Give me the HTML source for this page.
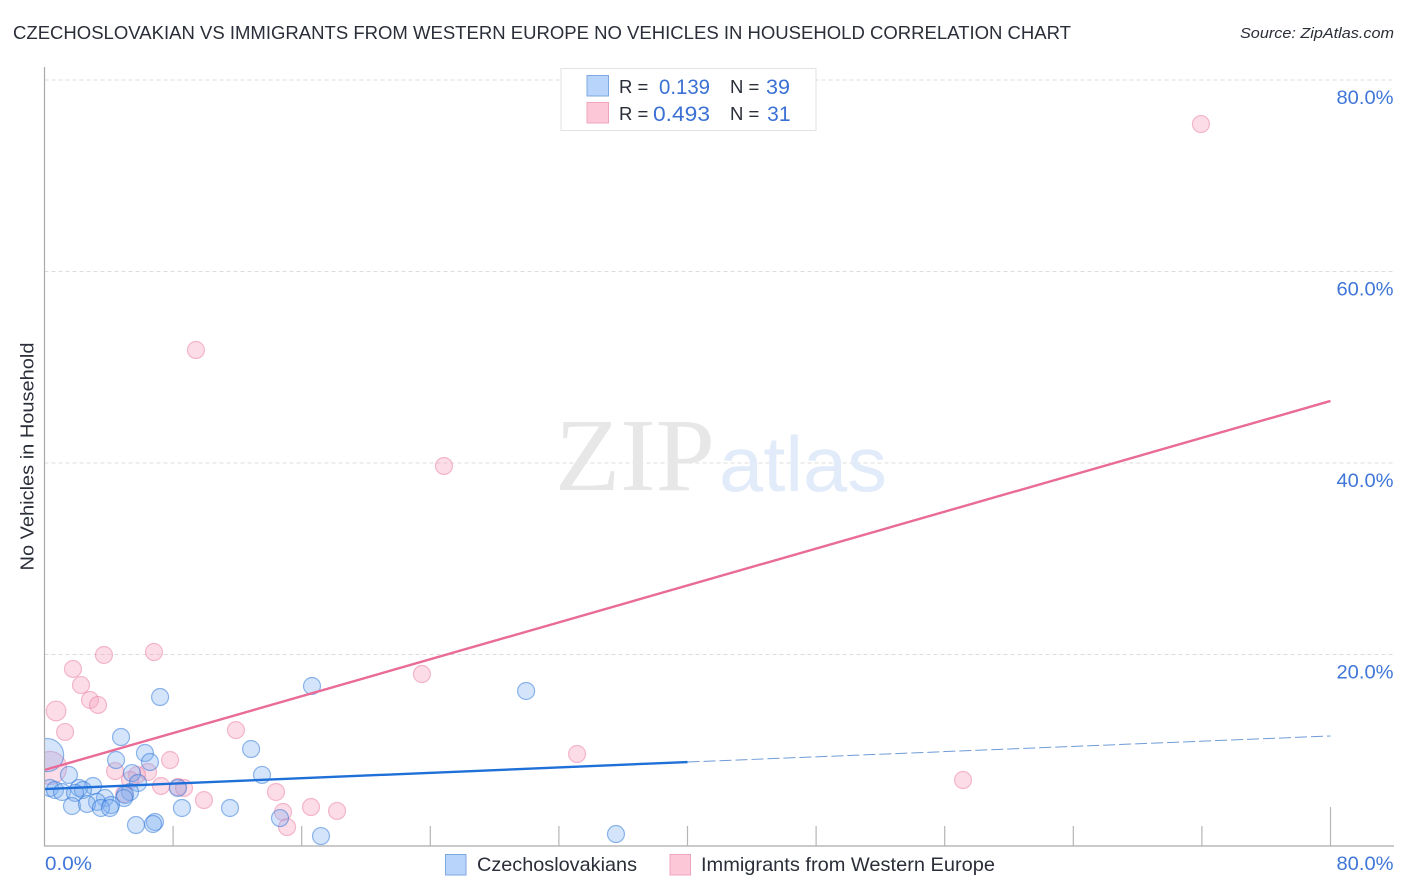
<!DOCTYPE html>
<html lang="en">
<head>
<meta charset="utf-8">
<title>Czechoslovakian vs Immigrants from Western Europe No Vehicles in Household Correlation Chart</title>
<style>
html,body{margin:0;padding:0;background:#fff;width:1406px;height:892px;overflow:hidden}
svg{display:block;font-family:"Liberation Sans",sans-serif}
</style>
</head>
<body>
<svg id="chart" width="1406" height="892" viewBox="0 0 1406 892" xmlns="http://www.w3.org/2000/svg">
  <defs><clipPath id="plot-clip"><rect x="44.5" y="60" width="1350" height="786"></rect></clipPath></defs>
  <text x="13" y="39" font-size="18.5" fill="#2a2e38" textLength="1058" lengthAdjust="spacingAndGlyphs">CZECHOSLOVAKIAN VS IMMIGRANTS FROM WESTERN EUROPE NO VEHICLES IN HOUSEHOLD CORRELATION CHART</text>
  <text x="1394" y="38" font-size="15" font-style="italic" fill="#2a2e38" text-anchor="end" textLength="154" lengthAdjust="spacingAndGlyphs">Source: ZipAtlas.com</text>
  <g id="grid"></g>
  <g>
    <text x="555" y="490" font-family="'Liberation Serif',serif" font-size="104" fill="#e7e7e7" textLength="160" lengthAdjust="spacingAndGlyphs">ZIP</text>
    <text x="719" y="491" font-size="78" fill="#e2ebf9" textLength="168" lengthAdjust="spacingAndGlyphs">atlas</text>
  </g>
  <g id="points" clip-path="url(#plot-clip)"></g>
  <g id="trends"></g>
  <g id="axes"></g>
  <text transform="translate(33.5,456.5) rotate(-90)" font-size="18.5" fill="#2a2e38" text-anchor="middle" textLength="228" lengthAdjust="spacingAndGlyphs">No Vehicles in Household</text>
  <g>
    <rect x="561" y="68.5" width="255" height="62" fill="#fff" stroke="#e2e2e2" stroke-width="1"></rect>
    <rect x="587" y="75.5" width="21.5" height="20.5" fill="#b9d4fa" stroke="#7ea9e0" stroke-width="1"></rect>
    <rect x="587" y="102.5" width="21.5" height="20.5" fill="#fcc8d8" stroke="#f0a4bc" stroke-width="1"></rect>
    <text x="619" y="93" font-size="18.5" fill="#2a2e38">R =</text>
    <text x="710" y="94" font-size="21" fill="#3b71d4" text-anchor="end" textLength="51" lengthAdjust="spacingAndGlyphs">0.139</text>
    <text x="730" y="93" font-size="18.5" fill="#2a2e38">N =</text>
    <text x="790" y="94" font-size="21" fill="#3b71d4" text-anchor="end" textLength="24" lengthAdjust="spacingAndGlyphs">39</text>
    <text x="619" y="120" font-size="18.5" fill="#2a2e38">R =</text>
    <text x="710" y="121" font-size="21" fill="#3b71d4" text-anchor="end" textLength="57" lengthAdjust="spacingAndGlyphs">0.493</text>
    <text x="730" y="120" font-size="18.5" fill="#2a2e38">N =</text>
    <text x="790.5" y="121" font-size="21" fill="#3b71d4" text-anchor="end">31</text>
  </g>
  <g>
    <rect x="445.5" y="854.5" width="20.5" height="20.5" fill="#b9d4fa" stroke="#7ea9e0" stroke-width="1"></rect>
    <text x="477" y="871" font-size="19.5" fill="#2a2e38" textLength="160" lengthAdjust="spacingAndGlyphs">Czechoslovakians</text>
    <rect x="670" y="854.5" width="20.5" height="20.5" fill="#fcc8d8" stroke="#f0a4bc" stroke-width="1"></rect>
    <text x="701" y="871" font-size="19.5" fill="#2a2e38" textLength="294" lengthAdjust="spacingAndGlyphs">Immigrants from Western Europe</text>
  </g>
</svg>
<script>
const xTicks = [8, 16, 24, 32, 40, 48, 56, 64, 72, 80];
const yTicks = [20, 40, 60, 80];
const yTickLabels = ['20.0%', '40.0%', '60.0%', '80.0%'];
const xEndLabels = ['0.0%', '80.0%'];
const xEndValues = [0, 80];

const blueX = [16.64,7.19,4.76,6.25,4.45,6.56,12.85,13.53,5.44,1.52,5.82,3.02,2.15,2.39,0.34,0.65,1.09,8.30,5.32,5.01,4.95,3.76,3.27,1.90,4.14,1.71,2.64,3.51,4.07,8.55,11.54,14.65,5.69,6.87,6.75,17.20,29.96,35.55,0.16];
const blueY = [16.71,15.56,11.38,9.71,8.98,8.77,10.13,7.42,7.62,7.42,6.58,6.27,6.06,5.85,6.06,5.85,5.64,6.06,5.64,5.33,5.01,5.01,4.60,5.54,4.28,4.18,4.39,3.97,3.97,3.97,3.97,2.92,2.19,2.51,2.30,1.04,16.19,1.25,9.50];
const blueWeight = [1,1,1,1,1,1,1,1,1,1,1,1,1,1,1,1,1,1,1,1,1,1,1,1,1,1,1,1,1,1,1,1,1,1,1,1,1,1,3.8];

const pinkX = [71.94,9.42,24.85,3.70,6.81,1.77,2.27,23.48,2.83,3.33,0.72,1.28,11.91,33.13,57.14,7.81,4.39,6.44,5.75,5.32,7.25,8.30,8.68,4.95,9.92,14.40,14.84,16.58,18.20,15.09,0.34];
const pinkY = [75.40,51.80,39.69,19.95,20.26,18.49,16.81,17.96,15.25,14.73,14.10,11.91,12.11,9.61,6.89,8.98,7.83,7.73,7.42,6.89,6.27,6.16,6.06,5.43,4.80,5.64,3.55,4.07,3.66,1.98,8.15];
const pinkWeight = [1,1,1,1,1,1,1,1,1,1,1.35,1,1,1,1,1,1,1,1,1,1,1,1,1,1,1,1,1,1,1,3.8];

const blueTrendX = [0, 40, 80];
const blueTrendY = [5.95, 8.77, 11.49];
const pinkTrendX = [0, 80];
const pinkTrendY = [7.94, 46.48];

const NS = 'http://www.w3.org/2000/svg';
const xScale = function (v) { return 44.5 + v * 16.075; };
const yScale = function (v) { return 846 - v * 9.575; };
const rScale = function (w) { return 8.5 * Math.sqrt(w); };

function make(tag, attrs, parent) {
  const el = document.createElementNS(NS, tag);
  Object.keys(attrs).forEach(function (k) { el.setAttribute(k, attrs[k]); });
  parent.appendChild(el);
  return el;
}

const grid = document.getElementById('grid');
const axes = document.getElementById('axes');
const points = document.getElementById('points');
const trends = document.getElementById('trends');

yTicks.forEach(function (v, i) {
  const line = make('line', {x1: 44.5, x2: 1394, y1: yScale(v), y2: yScale(v), stroke: '#dcdcdc', 'stroke-width': 1, 'stroke-dasharray': '4 3'}, grid);
  
  
  const label = make('text', {x: 1393.5, y: yScale(v) + 24, 'font-size': 19.5, fill: '#3f76d8', 'text-anchor': 'end', textLength: 57, lengthAdjust: 'spacingAndGlyphs'}, axes);
  label.textContent = yTickLabels[i];
  
  
});

const yAxis = make('line', {x1: 44.5, x2: 44.5, y1: 67, y2: 846.5, stroke: '#aaaaaa', 'stroke-width': 1.2}, axes);


const xAxis = make('line', {x1: 44, x2: 1394, y1: 846, y2: 846, stroke: '#aaaaaa', 'stroke-width': 1.2}, axes);



xTicks.forEach(function (v, i) {
  const isLast = i === xTicks.length - 1;
  const tick = make('line', {x1: xScale(v), x2: xScale(v), y1: isLast ? 807 : 826, y2: 846, stroke: '#b5b5b5', 'stroke-width': 1.2}, axes);
  
  
});

xEndLabels.forEach(function (t, i) {
  const first = i === 0;
  const label = make('text', {x: first ? xScale(xEndValues[i]) + 0.5 : 1393.5, y: 870, 'font-size': 19.5, fill: '#3f76d8', 'text-anchor': first ? 'start' : 'end', textLength: first ? 47 : 57, lengthAdjust: 'spacingAndGlyphs'}, axes);
  label.textContent = t;
  
  
});

pinkX.forEach(function (v, i) {
  const c = make('circle', {cx: xScale(v), cy: yScale(pinkY[i]), r: rScale(pinkWeight[i]), fill: 'rgba(247,160,188,0.36)', stroke: 'rgba(232,120,160,0.48)', 'stroke-width': 1.2}, points);
  
  
});

blueX.forEach(function (v, i) {
  const c = make('circle', {cx: xScale(v), cy: yScale(blueY[i]), r: rScale(blueWeight[i]), fill: 'rgba(130,175,240,0.34)', stroke: 'rgba(40,115,215,0.5)', 'stroke-width': 1.2}, points);
  
  
});

const pinkLine = make('line', {x1: xScale(pinkTrendX[0]), y1: yScale(pinkTrendY[0]), x2: xScale(pinkTrendX[1]), y2: yScale(pinkTrendY[1]), stroke: '#e96b97', 'stroke-width': 2.4}, trends);



const blueLine = make('line', {x1: xScale(blueTrendX[0]), y1: yScale(blueTrendY[0]), x2: xScale(blueTrendX[1]), y2: yScale(blueTrendY[1]), stroke: '#1f6fd8', 'stroke-width': 2.4}, trends);



const blueDash = make('line', {x1: xScale(blueTrendX[1]), y1: yScale(blueTrendY[1]), x2: xScale(blueTrendX[2]), y2: yScale(blueTrendY[2]), stroke: '#6f9bd8', 'stroke-width': 1, 'stroke-dasharray': '12 4'}, trends);


</script>
</body>
</html>
